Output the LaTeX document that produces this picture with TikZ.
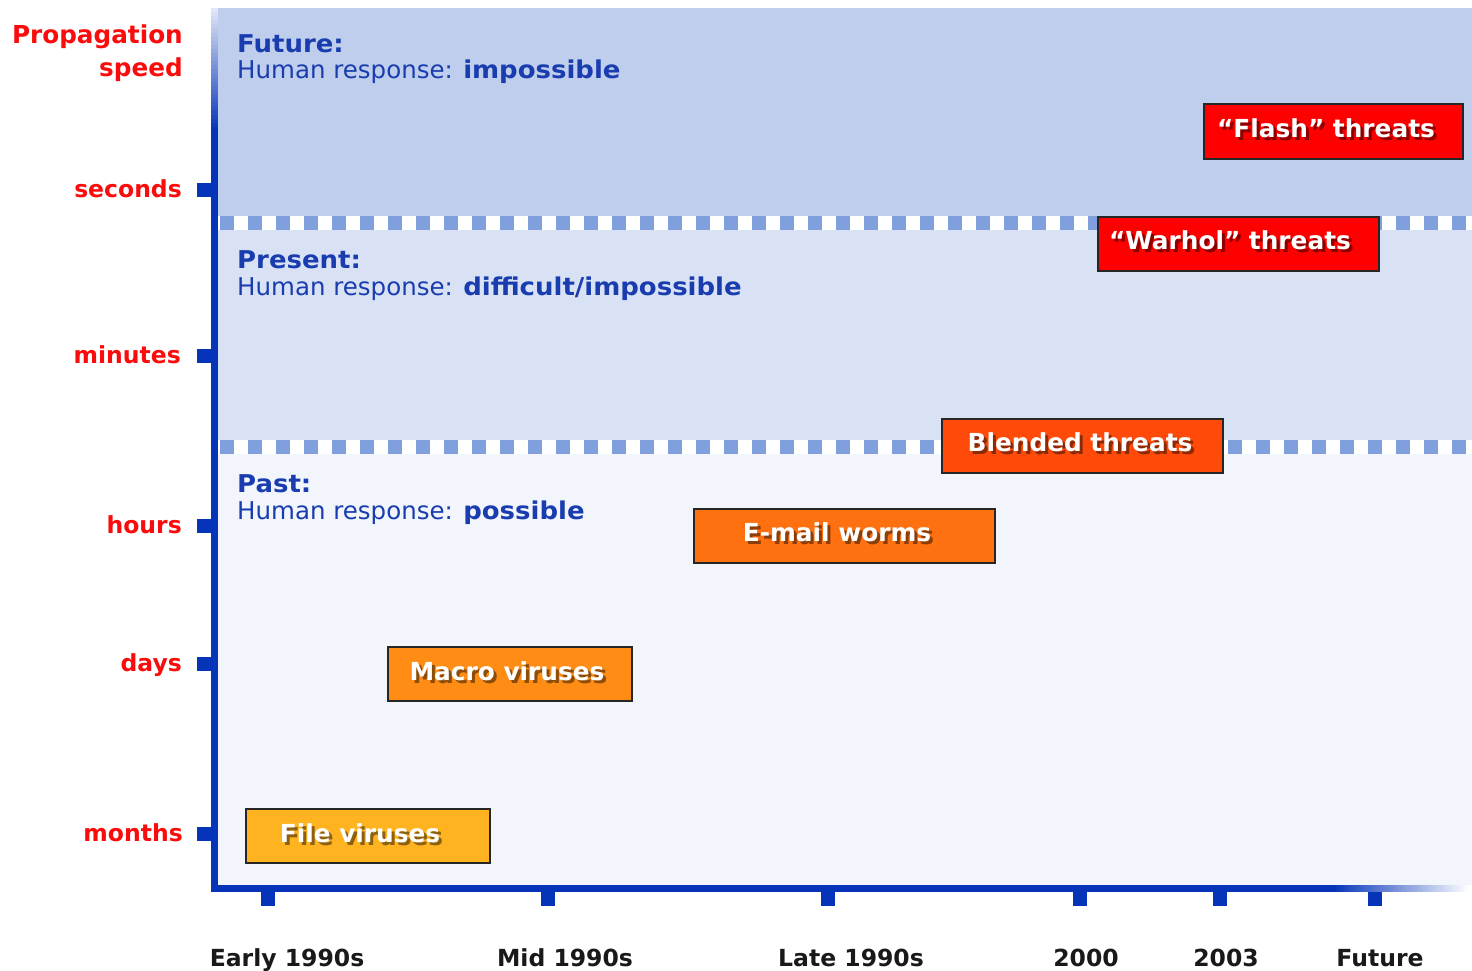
\documentclass[tikz,border=0pt]{standalone}
\usepackage{graphicx}
\usepackage{fontspec}
\setmainfont{DejaVu Sans}
\usetikzlibrary{calc}
\definecolor{axisblue}{RGB}{5,52,185}
\definecolor{txtblue}{RGB}{25,60,175}
\definecolor{lblred}{RGB}{250,12,12}
\definecolor{futurebg}{RGB}{191,206,236}
\definecolor{presentbg}{RGB}{217,226,244}
\definecolor{pastbg}{RGB}{242,245,252}
\definecolor{dashsq}{RGB}{127,160,220}
\definecolor{cflash}{RGB}{255,0,0}
\definecolor{cblend}{RGB}{255,74,10}
\definecolor{cmail}{RGB}{255,112,16}
\definecolor{cmacro}{RGB}{255,140,20}
\definecolor{cfile}{RGB}{255,179,32}
\newcommand\shtext[2]{\makebox[0pt][l]{\smash{\kern3pt\raisebox{-3pt}{\color{#1}#2}}}#2}
\newcommand\wb[1]{\scalebox{1.06}[1]{\bfseries #1}}
\tikzset{
  bandhead/.style={text=txtblue, inner sep=0pt, anchor=base west, font=\fontsize{24.5}{28}\selectfont},
  bandline/.style={text=txtblue, inner sep=0pt, anchor=base west, font=\fontsize{24.5}{28}\selectfont},
  ylabel/.style={text=lblred, inner sep=0pt, anchor=base east, font=\fontsize{23.5}{28}\selectfont\bfseries},
  ylabelbig/.style={ylabel, font=\fontsize{24.7}{28}\selectfont\bfseries},
  xlabel/.style={text=black!90, inner sep=0pt, anchor=base, font=\fontsize{23.5}{28}\selectfont\bfseries},
  threatbox/.style={draw=black!85, line width=1.6pt, inner sep=0pt},
  boxlabel/.style={text=white, inner sep=0pt, font=\fontsize{24.8}{28}\selectfont\bfseries},
}
\begin{document}
\begin{tikzpicture}[x=1pt,y=-1pt]
\useasboundingbox (0,0) rectangle (1472,971);
\fill[white] (0,0) rectangle (1472,971);
% bands
\fill[futurebg] (218,8) rectangle (1472,216);
\fill[white] (218,216) rectangle (1472,230);
\fill[presentbg] (218,230) rectangle (1472,440);
\fill[white] (218,440) rectangle (1472,454);
\fill[pastbg] (218,454) rectangle (1472,885);
\foreach \i in {0,...,44}{
  \fill[dashsq] ({220+28*\i},216) rectangle ({234+28*\i},230);
  \fill[dashsq] ({220+28*\i},440) rectangle ({234+28*\i},454);
}
% axes
\fill[axisblue] (211,129) rectangle (218,892);
\fill[axisblue] (211,885) rectangle (1332,892);
\foreach \k in {0,...,29}{
  \pgfmathsetmacro{\pc}{int(12+88*\k/29)}
  \fill[axisblue!\pc!white] (211,{8+4.1*\k}) rectangle (218,{8+4.1*(\k+1)+0.3});
}
\foreach \k in {0,...,35}{
  \pgfmathsetmacro{\pc}{int(100-100*\k/35)}
  \fill[axisblue!\pc!white] ({1332+3.9*\k-0.2},885) rectangle ({1332+3.9*(\k+1)},892);
}
\foreach \yy in {190,356,526,664,834}{
  \fill[axisblue] (197,\yy-7) rectangle (211,\yy+7);
}
\foreach \xx in {268,548,828,1080,1220,1375}{
  \fill[axisblue] (\xx-7,892) rectangle (\xx+7,906);
}
% y labels
\node[ylabelbig] (prop) at (183,43.5) {Propagation};
\node[ylabelbig] (speed) at (183,76.5) {speed};
\node[ylabel] (sec) at (182,197.5) {seconds};
\node[ylabel] (min) at (181,363.5) {minutes};
\node[ylabel] (hrs) at (182,533.5) {hours};
\node[ylabel] (dys) at (182,671.5) {days};
\node[ylabel] (mon) at (183,841.5) {months};
% x labels
\node[xlabel] (early) at (287,966) {Early 1990s};
\node[xlabel] (mid) at (565,966) {Mid 1990s};
\node[xlabel] (late) at (851,966) {Late 1990s};
\node[xlabel] (y2000) at (1086,966) {2000};
\node[xlabel] (y2003) at (1226,966) {2003};
\node[xlabel] (fut) at (1380,966) {Future};
% band texts
\node[bandhead] (futh) at (237,52.5) {\wb{Future:}};
\node[bandline] (futl) at (237,78.5) {Human response: \wb{impossible}};
\node[bandhead] (preh) at (237,268.5) {\wb{Present:}};
\node[bandline] (prel) at (237,295.5) {Human response: \wb{difficult/impossible}};
\node[bandhead] (pash) at (237,492.5) {\wb{Past:}};
\node[bandline] (pasl) at (237,519.5) {Human response: \wb{possible}};
% threat boxes
\node[threatbox, fill=cflash, minimum width=259, minimum height=55] (flash) at (1333.5,131.5) {};
\node[threatbox, fill=cflash, minimum width=281, minimum height=54] (warhol) at (1238.5,244) {};
\node[threatbox, fill=cblend, minimum width=281, minimum height=54] (blend) at (1082.5,446) {};
\node[threatbox, fill=cmail, minimum width=301, minimum height=54] (mail) at (844.5,536) {};
\node[threatbox, fill=cmacro, minimum width=244, minimum height=54] (macro) at (510,674) {};
\node[threatbox, fill=cfile, minimum width=244, minimum height=54] (file) at (368,836) {};
\node[boxlabel] (flasht) at (1326,128) {\shtext{cflash!55!black}{“Flash” threats}};
\node[boxlabel] (warholt) at (1230,240.5) {\shtext{cflash!55!black}{“Warhol” threats}};
\node[boxlabel] (blendt) at (1080,442.5) {\shtext{cblend!55!black}{Blended threats}};
\node[boxlabel] (mailt) at (837,532.5) {\shtext{cmail!55!black}{E-mail worms}};
\node[boxlabel] (macrot) at (507,671) {\shtext{cmacro!55!black}{Macro viruses}};
\node[boxlabel] (filet) at (360,833) {\shtext{cfile!55!black}{File viruses}};
\end{tikzpicture}
\end{document}
